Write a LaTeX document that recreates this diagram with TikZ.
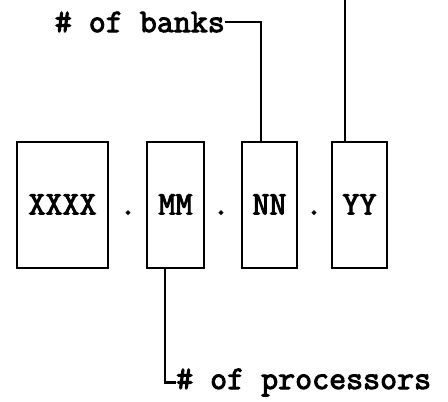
\documentclass[tikz,border=0pt]{standalone}
\usepackage{fontspec}
\setmonofont{Latin Modern Mono}[AutoFakeBold=3]
\usetikzlibrary{positioning}

\begin{document}
\begin{tikzpicture}[
  x=1pt, y=-1pt,
  font=\ttfamily\bfseries\fontsize{33}{36}\selectfont,
  field/.style={draw, line width=2.6pt, minimum height=126pt, inner sep=0pt, text height=19pt, text depth=0pt},
  sep/.style={inner sep=0pt, text height=19pt, text depth=0pt},
  tag/.style={inner sep=0pt},
  wire/.style={line width=2.3pt}
]
  \useasboundingbox (0,0) rectangle (448,402);

  \node[field, minimum width=91pt] (xxxx) at (62.5,205) {XXXX};
  \node[sep, right=10pt of xxxx] (dot1) {.};
  \node[field, minimum width=57pt, right=9pt of dot1] (mm) {MM};
  \node[sep, right=7pt of mm] (dot2) {.};
  \node[field, minimum width=55pt, right=11pt of dot2] (nn) {NN};
  \node[sep, right=7pt of nn] (dot3) {.};
  \node[field, minimum width=55pt, right=8pt of dot3] (yy) {YY};

  \node[tag, anchor=east] (banks) at (225,22) {\# of banks};
  \node[tag, anchor=base west] (procs) at (176,389) {\# of processors};
  \coordinate (top) at (345,0);

  \draw[wire] (top) -- (top |- yy.north);
  \draw[wire] (banks.east) -| ([xshift=-8.5pt]nn.north);
  \draw[wire] ([xshift=-10.5pt]mm.south) |- (procs.west);
\end{tikzpicture}
\end{document}
